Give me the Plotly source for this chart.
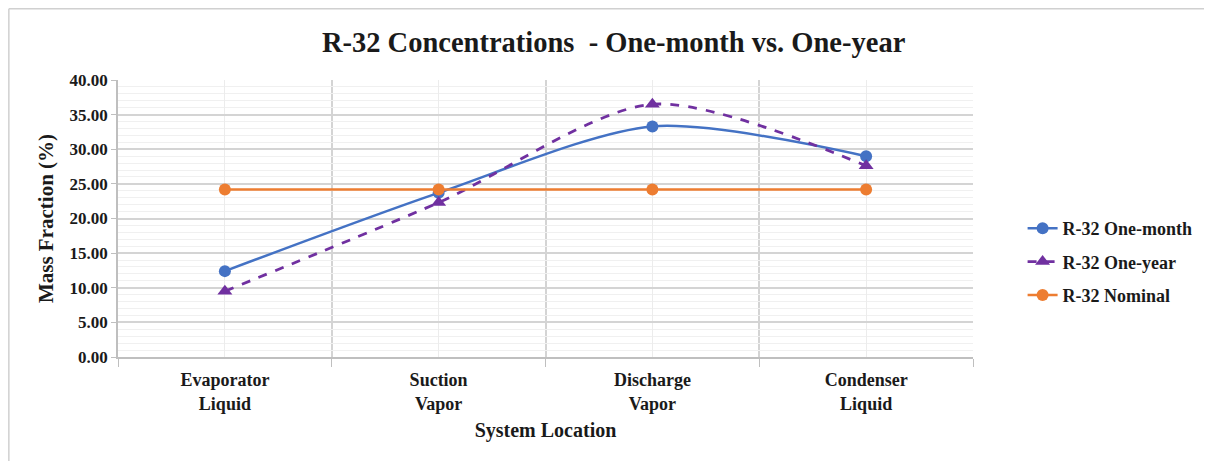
import plotly.graph_objects as go

locations = ["Evaporator<br>Liquid", "Suction<br>Vapor", "Discharge<br>Vapor", "Condenser<br>Liquid"]
one_month = [12.4, 23.7, 33.3, 29.0]
one_year = [9.5, 22.3, 36.5, 27.6]
nominal = [24.2, 24.2, 24.2, 24.2]

xpos = list(range(len(locations)))
serif = "Liberation Serif, Times New Roman, serif"
ink = "#1a1a1a"

fig = go.Figure()
fig.add_trace(go.Scatter(x=xpos, y=one_month, name="R-32 One-month", mode="lines+markers",
                         line=dict(color="#4472C4", width=2.5, shape="spline", smoothing=0.8),
                         marker=dict(symbol="circle", size=12, color="#4472C4"), legendgroup="a"))
fig.add_trace(go.Scatter(x=xpos, y=one_year, name="R-32 One-year", mode="lines+markers",
                         line=dict(color="#7030A0", width=2.8, dash="dash", shape="spline", smoothing=0.8),
                         marker=dict(symbol="triangle-up", size=13, color="#7030A0"), legendgroup="b"))
fig.add_trace(go.Scatter(x=xpos, y=nominal, name="R-32 Nominal", mode="lines+markers",
                         line=dict(color="#ED7D31", width=2.5),
                         marker=dict(symbol="circle", size=12, color="#ED7D31"), legendgroup="c"))

# page body has an 8px margin, so the figure is sized to fill the rest of the window
W, H = 1204, 453
L, R, T, B = 110, 239, 72, 104
pw, ph = W - L - R, H - T - B

fig.update_layout(
    width=W, height=H,
    margin=dict(l=L, r=R, t=T, b=B),
    paper_bgcolor="white", plot_bgcolor="white",
    font=dict(family=serif, color=ink, size=17, weight="bold"),
    title=dict(text="R-32 Concentrations  - One-month vs. One-year", x=0.503, xanchor="center",
               yref="container", y=1 - 34 / H, yanchor="middle",
               font=dict(size=28.5, family=serif, weight="bold", color=ink)),
    legend=dict(x=1.058, xanchor="left", y=0.343, yanchor="middle", tracegroupgap=7,
                font=dict(size=18, family=serif, weight="bold", color=ink)),
    xaxis=dict(range=[-0.5, 3.5], tickvals=xpos, ticktext=locations, ticks="",
               showgrid=True, gridcolor="#ececec", gridwidth=1,
               showline=True, linecolor="#bfbfbf", linewidth=1.5, zeroline=False,
               tickfont=dict(size=18, family=serif, weight="bold", color=ink),
               ticklabelstandoff=6,
               title=dict(text="System Location", standoff=10,
                          font=dict(size=20, family=serif, weight="bold", color=ink)),
               minor=dict(tickvals=[-0.5, 0.5, 1.5, 2.5, 3.5], ticks="outside", ticklen=8,
                          tickcolor="#bfbfbf", showgrid=True, gridcolor="#d4d4d4", gridwidth=1.5)),
    yaxis=dict(range=[0, 40], dtick=5, tickformat=".2f", ticks="outside", ticklen=5,
               tickcolor="#bfbfbf", showgrid=True, gridcolor="#d4d4d4", gridwidth=1.5,
               showline=True, linecolor="#bfbfbf", linewidth=1.5, zeroline=False,
               tickfont=dict(size=17, family=serif, weight="bold", color=ink),
               title=dict(text="Mass Fraction (%)", standoff=10,
                          font=dict(size=21, family=serif, weight="bold", color=ink)),
               minor=dict(dtick=1, showgrid=True, gridcolor="#f0f0f0", gridwidth=1)),
)

# thin frame along the left and top edges of the chart
fx0 = -L / pw + 0.001
fy1 = 1 + T / ph - 0.003
fig.add_shape(type="line", xref="paper", yref="paper", x0=fx0, x1=fx0, y0=-B / ph, y1=fy1,
              line=dict(color="#d0d0d0", width=1.5))
fig.add_shape(type="line", xref="paper", yref="paper", x0=fx0, x1=1 + R / pw, y0=fy1, y1=fy1,
              line=dict(color="#d0d0d0", width=1.5))

fig.write_html("out.html")
